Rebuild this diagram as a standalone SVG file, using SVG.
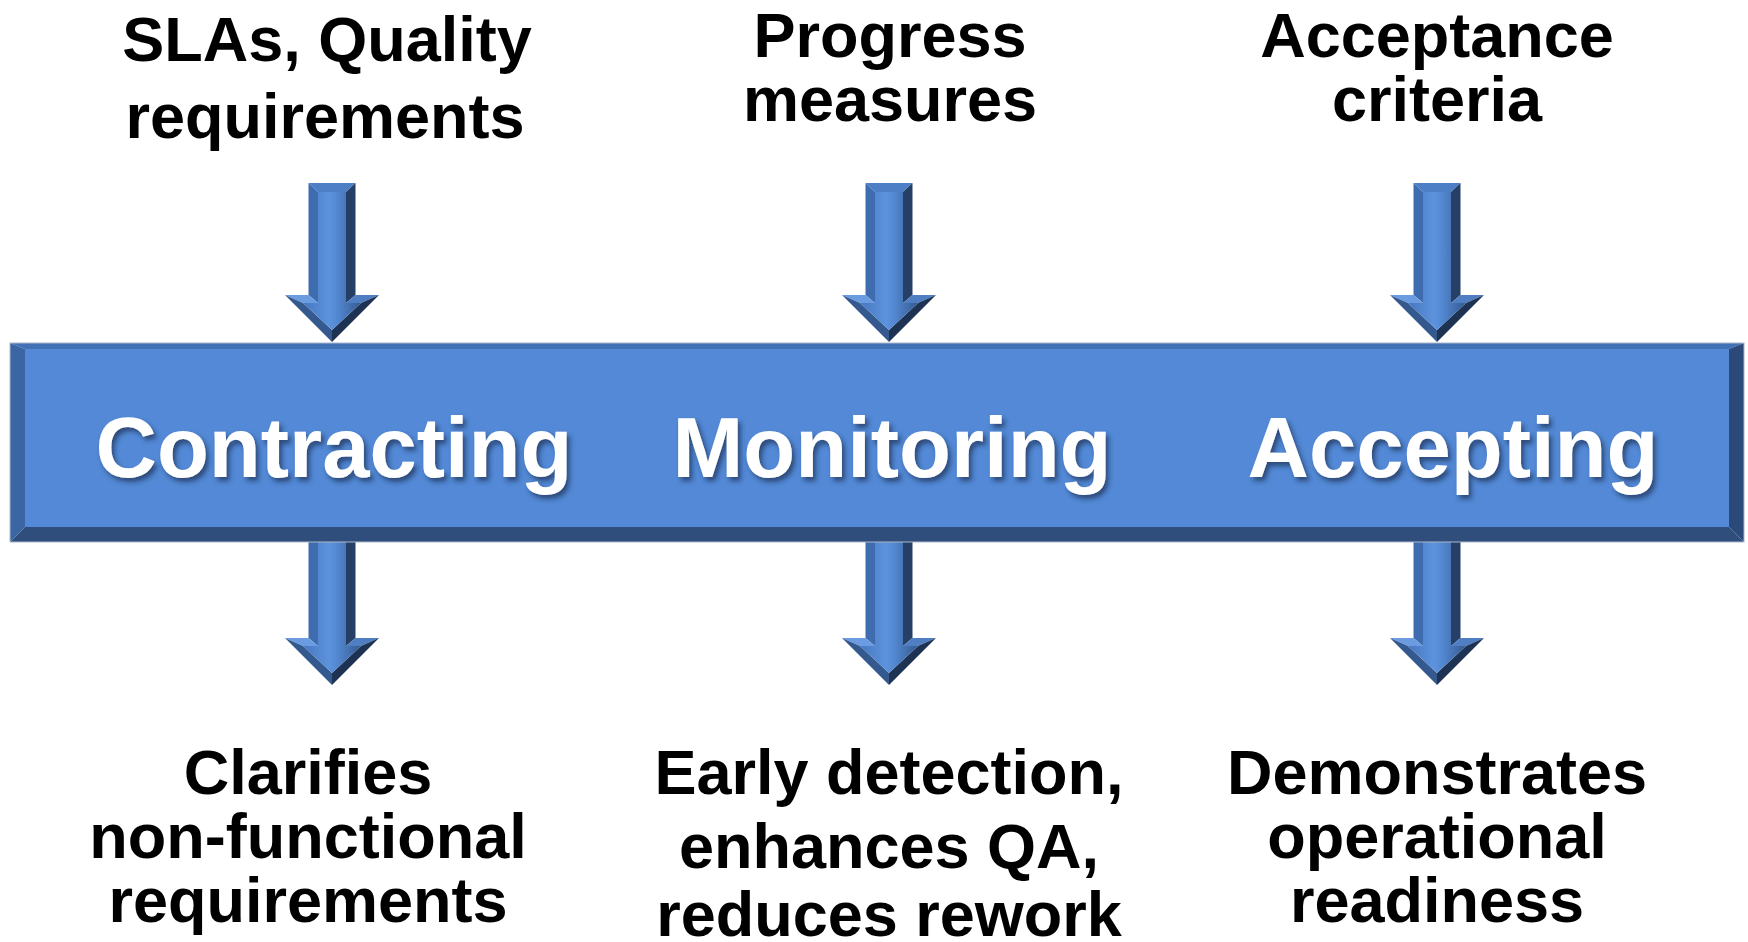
<svg xmlns="http://www.w3.org/2000/svg" xmlns:xlink="http://www.w3.org/1999/xlink" width="1748" height="942" viewBox="0 0 1748 942">
  <style>
    .label { font-family: "Liberation Sans", Arial, sans-serif; font-weight: bold; font-size: 63px; fill: #000; text-anchor: middle; }
    .stage { font-family: "Liberation Sans", Arial, sans-serif; font-weight: bold; font-size: 85px; fill: #fff; text-anchor: middle; filter: url(#textShadow); }
    .bev-top { fill: #4271b5; }
    .bev-left { fill: #3a66a4; }
    .bev-bottom { fill: #2f4e7c; }
    .bev-right { fill: #2b4a79; }
    .face { fill: #5389d6; }
    .a-cap { fill: #4d7fc6; }
    .a-sl { fill: #3f6cae; }
    .a-sr { fill: #263f66; }
    .a-hl-top { fill: #6b9be0; }
    .a-hr-top { fill: #4f7fc2; }
    .a-hl-edge { fill: #34598f; }
    .a-hr-edge { fill: #1e3354; }
  </style>
  <defs>
    <filter id="textShadow" x="-10%" y="-20%" width="130%" height="150%">
      <feDropShadow dx="3" dy="4" stdDeviation="2.5" flood-color="#1b2f52" flood-opacity="0.7"/>
    </filter>
    <linearGradient id="arrowFace" x1="0" y1="0" x2="1" y2="0">
      <stop offset="0" stop-color="#4677bf"/>
      <stop offset="0.45" stop-color="#5d93dd"/>
      <stop offset="0.6" stop-color="#5287d0"/>
      <stop offset="1" stop-color="#35598f"/>
    </linearGradient>
    <!-- beveled down arrow, shaft top at origin, tip at (0,159) -->
    <g id="downArrow">
      <polygon class="a-cap" points="-23.5,0 23.5,0 14,9 -14,9"/>
      <polygon class="a-sl" points="-23.5,0 -14,9 -14,120 -23.5,112"/>
      <polygon class="a-sr" points="23.5,0 14,9 14,120 23.5,112"/>
      <polygon class="a-hl-top" points="-23.5,112 -47,112 -29,120 -14,120"/>
      <polygon class="a-hr-top" points="23.5,112 47,112 29,120 14,120"/>
      <polygon class="a-hl-edge" points="-47,112 0,159 0,147 -29,120"/>
      <polygon class="a-hr-edge" points="47,112 0,159 0,147 29,120"/>
      <polygon fill="url(#arrowFace)" points="-14,9 14,9 14,120 29,120 0,147 -29,120 -14,120"/>
    </g>
  </defs>

  <rect width="1748" height="942" fill="#fff"/>

  <!-- connectors: arrows into and out of the process bar -->
  <g id="connectors">
    <use xlink:href="#downArrow" x="332" y="183"/>
    <use xlink:href="#downArrow" x="889" y="183"/>
    <use xlink:href="#downArrow" x="1437" y="183"/>
    <use xlink:href="#downArrow" x="332" y="526"/>
    <use xlink:href="#downArrow" x="889" y="526"/>
    <use xlink:href="#downArrow" x="1437" y="526"/>
  </g>

  <!-- process bar -->
  <g id="process-bar">
    <polygon class="bev-top" points="10,343 1744,343 1729,349 25,349"/>
    <polygon class="bev-left" points="10,343 25,349 25,527 10,542"/>
    <polygon class="bev-bottom" points="10,542 25,527 1729,527 1744,542"/>
    <polygon class="bev-right" points="1744,343 1729,349 1729,527 1744,542"/>
    <rect class="face" x="25" y="349" width="1704" height="178"/>
    <rect x="10" y="343" width="1734" height="199" fill="none" stroke="#aab8cc" stroke-width="1"/>
  </g>

  <g id="stage-contracting">
    <text class="stage" x="334" y="477">Contracting</text>
  </g>
  <g id="stage-monitoring">
    <text class="stage" x="892" y="477">Monitoring</text>
  </g>
  <g id="stage-accepting">
    <text class="stage" x="1453" y="477">Accepting</text>
  </g>

  <!-- inputs -->
  <g id="input-contracting">
    <text class="label" x="327" y="61">SLAs, Quality</text>
    <text class="label" x="325" y="138">requirements</text>
  </g>
  <g id="input-monitoring">
    <text class="label" x="890" y="57">Progress</text>
    <text class="label" x="890" y="121">measures</text>
  </g>
  <g id="input-accepting">
    <text class="label" x="1437" y="57">Acceptance</text>
    <text class="label" x="1437" y="121">criteria</text>
  </g>

  <!-- outcomes -->
  <g id="output-contracting">
    <text class="label" x="308" y="794">Clarifies</text>
    <text class="label" x="308" y="858">non-functional</text>
    <text class="label" x="308" y="922">requirements</text>
  </g>
  <g id="output-monitoring">
    <text class="label" x="889" y="794">Early detection,</text>
    <text class="label" x="889" y="868">enhances QA,</text>
    <text class="label" x="889" y="936">reduces rework</text>
  </g>
  <g id="output-accepting">
    <text class="label" x="1437" y="794">Demonstrates</text>
    <text class="label" x="1437" y="858">operational</text>
    <text class="label" x="1437" y="922">readiness</text>
  </g>
</svg>
